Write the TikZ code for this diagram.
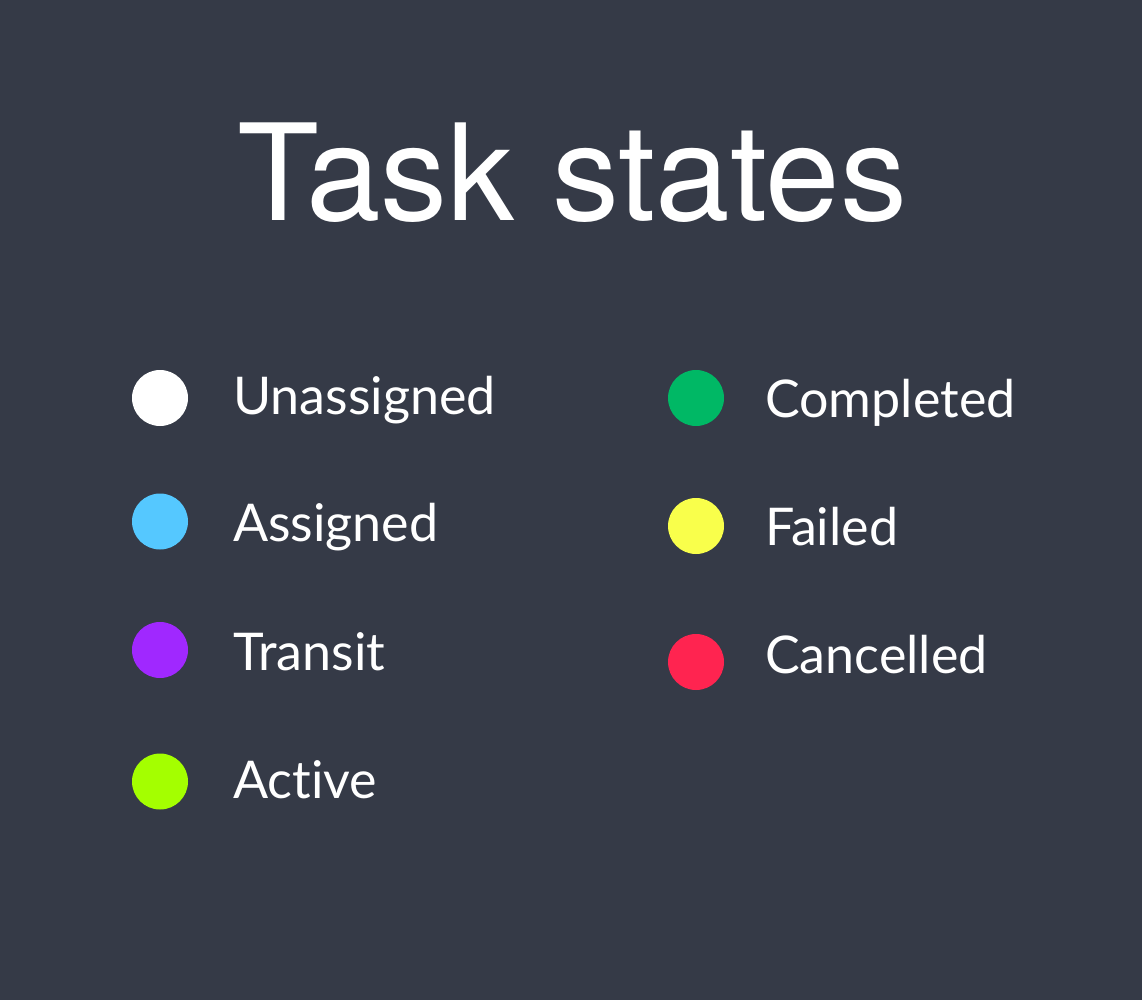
\documentclass[tikz,border=0pt]{standalone}
\usepackage{fontspec}
\setmainfont[Ligatures=NoCommon]{Lato}
\newfontfamily\titlefont{TeX Gyre Heros}
\definecolor{bgcol}{HTML}{353A47}
\definecolor{cwhite}{HTML}{FFFFFF}
\definecolor{cblue}{HTML}{55C8FF}
\definecolor{cpurple}{HTML}{A028FF}
\definecolor{clime}{HTML}{A4FF00}
\definecolor{cgreen}{HTML}{00B865}
\definecolor{cyellow}{HTML}{F9FF4B}
\definecolor{cred}{HTML}{FF2450}
\begin{document}
\begin{tikzpicture}[x=1pt,y=-1pt,
  dot/.style={circle,inner sep=0pt,minimum size=56pt,draw=none},
  lbl/.style={anchor=base west,inner sep=0pt,text=white,font=\fontsize{52}{60}\selectfont},
  ttl/.style={anchor=base,inner sep=0pt,text=white,font=\titlefont\fontsize{134}{150}\selectfont}]
\fill[bgcol] (0,0) rectangle (1142,1000);
\useasboundingbox (0,0) rectangle (1142,1000);
\node[ttl] (title) at (572.5,221) {Task states};
% left column
\node[dot,fill=cwhite]  (d1) at (160,398) {};
\node[lbl] (l1) at (233,414) {Unassigned};
\node[dot,fill=cblue]   (d2) at (160,521.5) {};
\node[lbl] (l2) at (233,541) {Assigned};
\node[dot,fill=cpurple] (d3) at (160,650) {};
\node[lbl] (l3) at (233,670) {Transit};
\node[dot,fill=clime]   (d4) at (160,781.5) {};
\node[lbl] (l4) at (233,798) {Active};
% right column
\node[dot,fill=cgreen]  (d5) at (696,398) {};
\node[lbl] (l5) at (765,417) {Completed};
\node[dot,fill=cyellow] (d6) at (696,526) {};
\node[lbl] (l6) at (765,545) {Failed};
\node[dot,fill=cred]    (d7) at (696,662) {};
\node[lbl] (l7) at (765,673) {Cancelled};
\end{tikzpicture}
\end{document}
